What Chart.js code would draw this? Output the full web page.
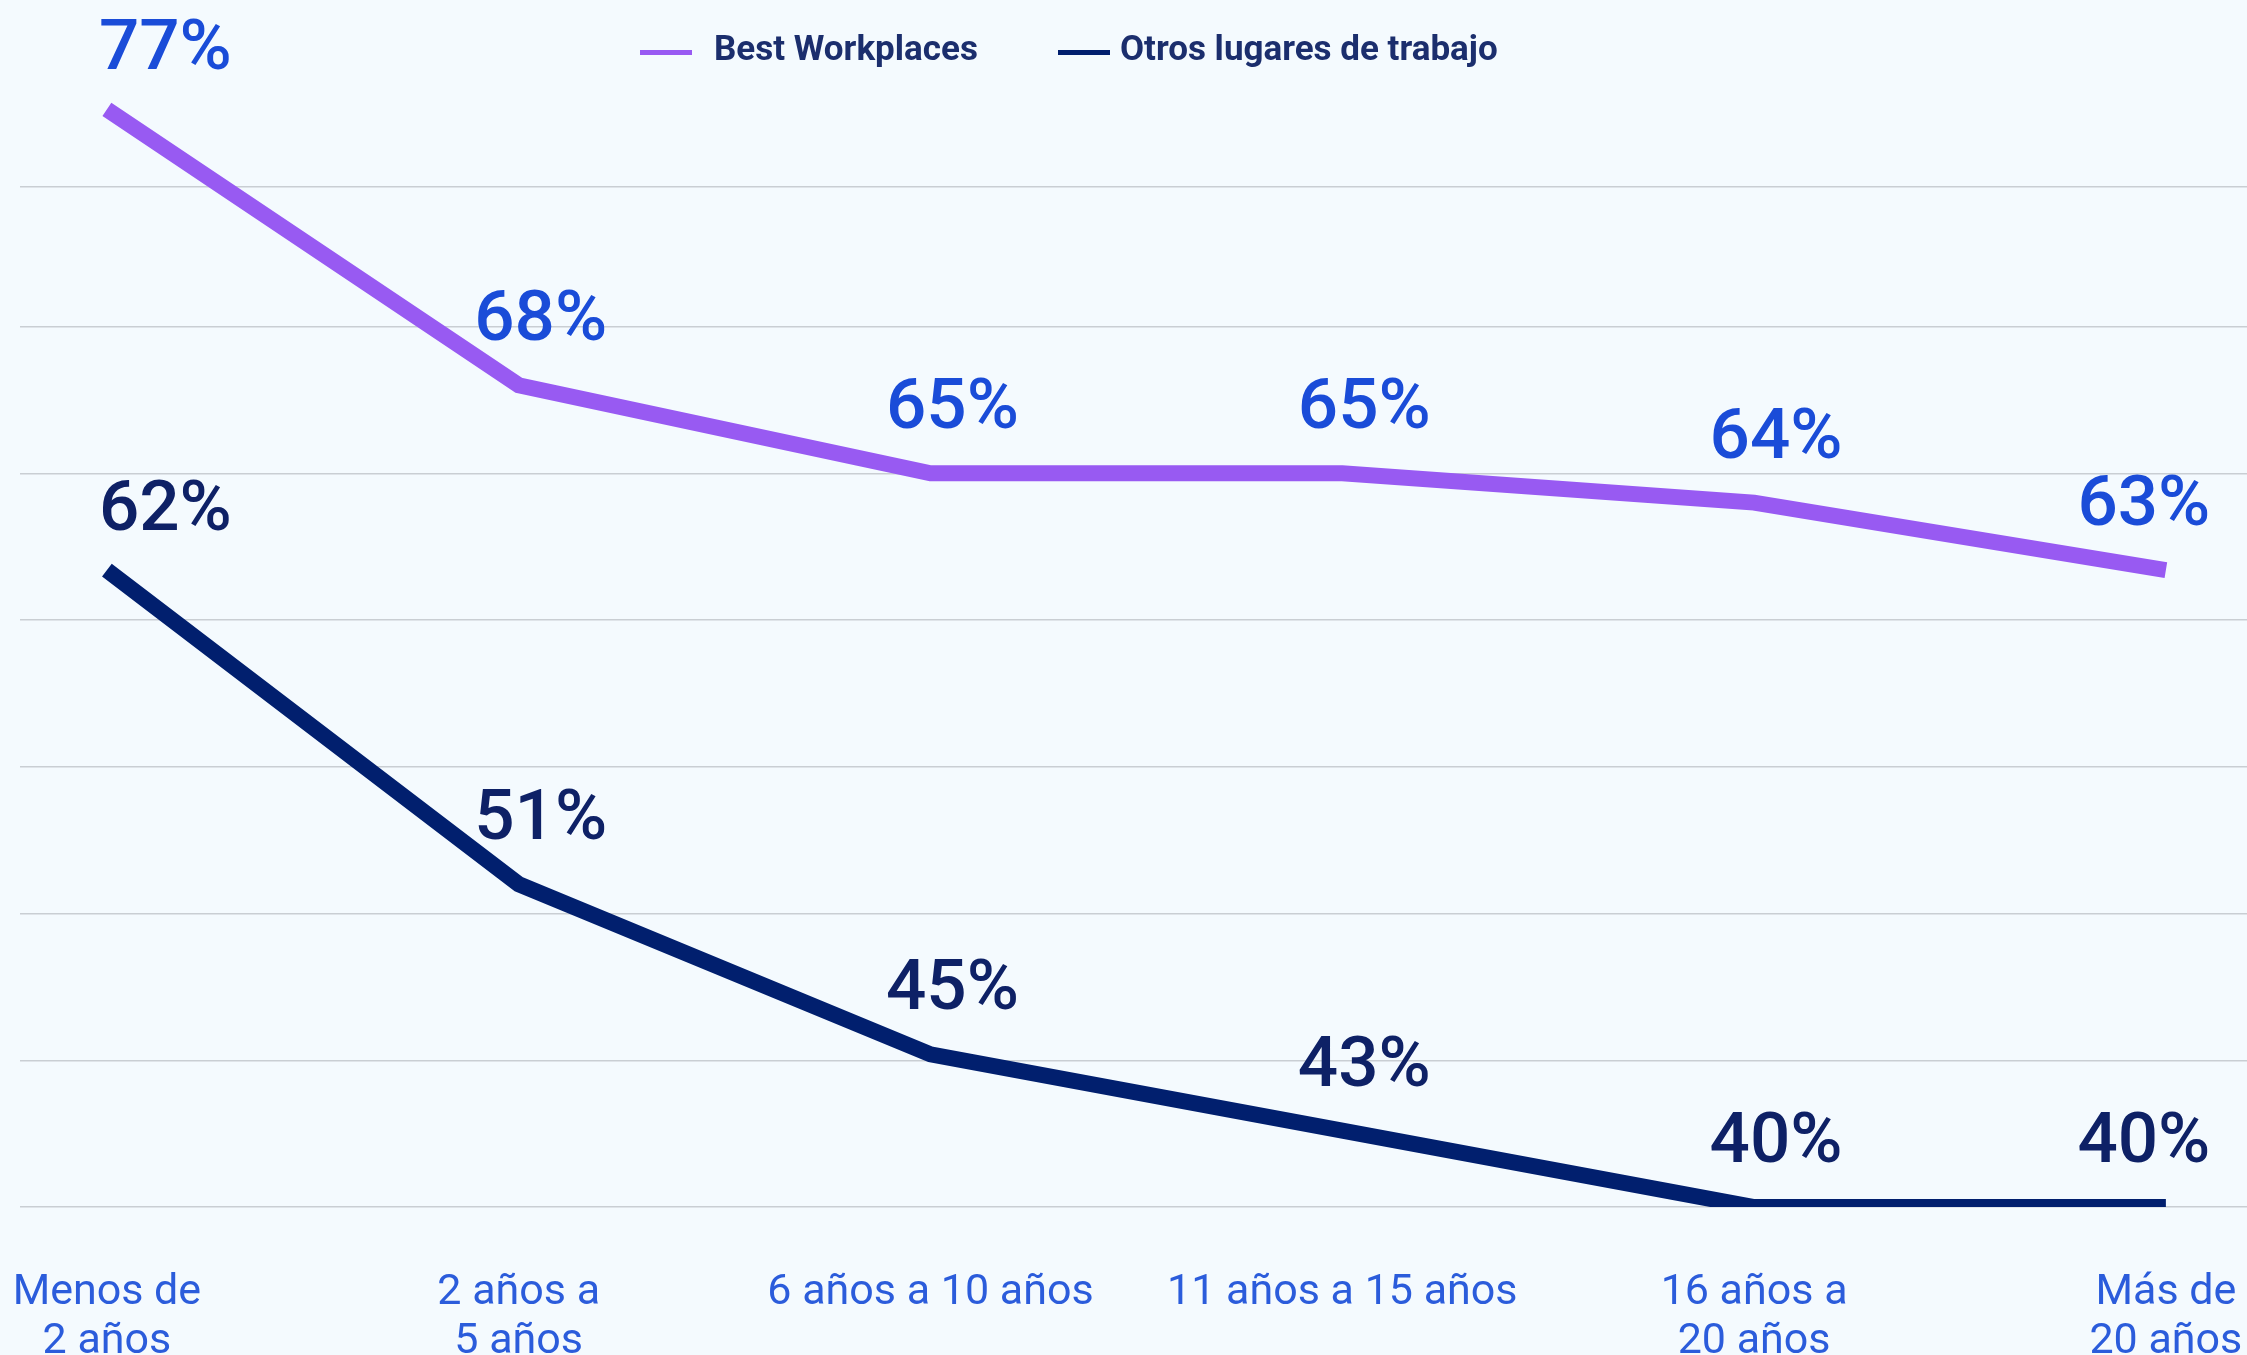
<!DOCTYPE html>
<html lang="es">
<head>
<meta charset="utf-8">
<title>Best Workplaces vs otros lugares de trabajo</title>
<script src="https://cdn.jsdelivr.net/npm/chart.js@4.4.1/dist/chart.umd.min.js"></script>
<style>
    html, body {
        margin: 0;
        padding: 0;
        background: #F4FAFE;
        overflow: hidden;
    }
    #wrap {
        position: relative;
        width: 2247px;
        height: 1355px;
    }
    #legend {
        position: absolute;
        left: 640px;
        top: 29px;
        display: flex;
        font: 700 35px Roboto, sans-serif;
        line-height: 40px;
        color: #1B2E6D;
        white-space: nowrap;
    }
    #legend .item {
        display: flex;
        align-items: center;
        margin-right: 80px;
    }
    #legend .swatch {
        display: inline-block;
        width: 52px;
        height: 5px;
        position: relative;
        top: 3px;
        margin-right: 22px;
    }
    #legend .item + .item .swatch {
        margin-right: 10px;
    }
</style>
</head>
<body>
<div id="wrap">
    <canvas id="chart" width="2247" height="1355"></canvas>
    <div id="legend"></div>
</div>
<script>
// Chart data
const categories = [
    ['Menos de', '2 años'],
    ['2 años a', '5 años'],
    '6 años a 10 años',
    '11 años a 15 años',
    ['16 años a', '20 años'],
    ['Más de', '20 años']
];
const seriesNames = ['Best Workplaces', 'Otros lugares de trabajo'];
const bestWorkplaces = [77.4, 68.0, 65.0, 65.0, 64.0, 61.7];
const otrosLugares = [61.7, 51.0, 45.2, 42.6, 40.0, 40.0];
const bestLabels = ['77%', '68%', '65%', '65%', '64%', '63%'];
const otrosLabels = ['62%', '51%', '45%', '43%', '40%', '40%'];
const yTicks = [40, 45, 50, 55, 60, 65, 70, 74.75];

const colors = {
    best: '#985AF2',
    otros: '#011F6E',
    bestText: '#1A4CD8',
    otrosText: '#0E2166',
    axisText: '#2B5CDB',
    grid: '#C9CED3'
};

// Legend (html, above the canvas)
const legendEl = document.getElementById('legend');
[colors.best, colors.otros].forEach((c, i) => {
    const item = document.createElement('span');
    item.className = 'item';
    item.innerHTML = `<span class="swatch" style="background:${c}"></span>${seriesNames[i]}`;
    legendEl.appendChild(item);
});

function toPoints(values) {
    return values.map((v, i) => ({ x: i, y: v }));
}

// Draws the percentage above each point
const valueLabels = {
    id: 'valueLabels',
    afterDatasetsDraw(chart) {
        const ctx = chart.ctx;
        ctx.save();
        ctx.font = '500 71px Roboto, sans-serif';
        ctx.textBaseline = 'alphabetic';
        chart.data.datasets.forEach((ds, di) => {
            const meta = chart.getDatasetMeta(di);
            ctx.fillStyle = ds.labelColor;
            meta.data.forEach((el, i) => {
                const last = i === meta.data.length - 1;
                let x = el.x + 22;
                let y = el.y - 45;
                ctx.textAlign = 'center';
                if (i === 0) {
                    ctx.textAlign = 'left';
                    x = el.x - 8;
                    y = el.y - 40;
                } else if (last) {
                    x = el.x - 22;
                }
                ctx.fillText(ds.valueLabels[i], x, y);
            });
        });
        ctx.restore();
    }
};

function draw() {
    new Chart(document.getElementById('chart'), {
        type: 'line',
        data: {
            datasets: [{
                label: seriesNames[0],
                data: toPoints(bestWorkplaces),
                valueLabels: bestLabels,
                labelColor: colors.bestText,
                borderColor: colors.best,
                backgroundColor: colors.best
            }, {
                label: seriesNames[1],
                data: toPoints(otrosLugares),
                valueLabels: otrosLabels,
                labelColor: colors.otrosText,
                borderColor: colors.otros,
                backgroundColor: colors.otros
            }]
        },
        options: {
            responsive: false,
            animation: false,
            devicePixelRatio: 1,
            layout: {
                padding: { top: 33, left: 20, right: 0, bottom: 0 }
            },
            elements: {
                line: {
                    borderWidth: 16,
                    tension: 0,
                    borderCapStyle: 'butt',
                    borderJoinStyle: 'miter',
                    fill: false
                },
                point: { radius: 0, hoverRadius: 0 }
            },
            plugins: {
                legend: { display: false },
                tooltip: { enabled: false }
            },
            scales: {
                x: {
                    type: 'linear',
                    min: -0.211,
                    max: 5.197,
                    grid: { display: false },
                    border: { display: false },
                    afterBuildTicks: scale => {
                        scale.ticks = categories.map((c, i) => ({ value: i }));
                    },
                    afterFit: scale => {
                        scale.height = 148;
                        scale.paddingLeft = 0;
                        scale.paddingRight = 0;
                    },
                    ticks: {
                        autoSkip: false,
                        maxRotation: 0,
                        padding: 54,
                        color: colors.axisText,
                        font: { family: 'Roboto', size: 43, lineHeight: 1.13 },
                        callback: value => categories[value]
                    }
                },
                y: {
                    min: 40,
                    max: 80,
                    border: { display: false },
                    grid: {
                        color: colors.grid,
                        lineWidth: 1.5,
                        drawTicks: false
                    },
                    ticks: { display: false },
                    afterBuildTicks: scale => {
                        scale.ticks = yTicks.map(v => ({ value: v }));
                    },
                    afterFit: scale => {
                        scale.width = 0;
                    }
                }
            }
        },
        plugins: [valueLabels]
    });
}

document.fonts.load('71px Roboto').then(draw, draw);
</script>
</body>
</html>
